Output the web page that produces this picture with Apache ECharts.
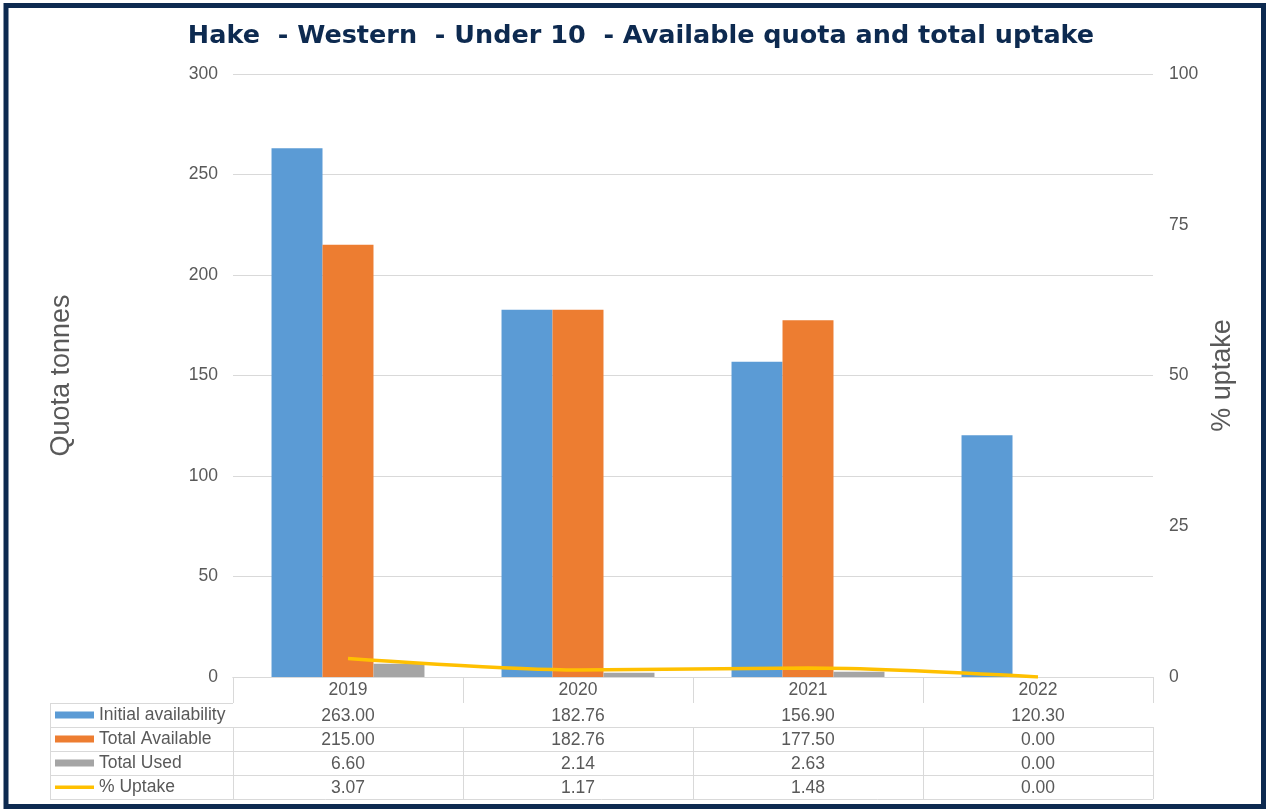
<!DOCTYPE html>
<html>
<head>
<meta charset="utf-8">
<script src="https://cdn.jsdelivr.net/npm/echarts@6/dist/echarts.min.js"></script>
<style>
html,body{margin:0;padding:0;background:#fff;}
#chart{width:1266px;height:809px;}
</style>
</head>
<body>
<div id="chart"></div>
<script>
// ---- data ----
const years = ['2019', '2020', '2021', '2022'];
const initialAvailability = [263.00, 182.76, 156.90, 120.30];
const totalAvailable = [215.00, 182.76, 177.50, 0.00];
const totalUsed = [6.60, 2.14, 2.63, 0.00];
const pctUptake = [3.07, 1.17, 1.48, 0.00];
const leftTicks = [0, 50, 100, 150, 200, 250, 300];
const rightTicks = [0, 25, 50, 75, 100];
const seriesNames = ['Initial availability', 'Total Available', 'Total Used', '% Uptake'];
const titleText = 'Hake  - Western  - Under 10  - Available quota and total uptake';

// ---- layout / style ----
const FONT = '"Liberation Sans", Arial, sans-serif';
const TXT = '#595959';
const GRIDC = '#d9d9d9';
const NAVY = '#0d2a50';
const gridL = 233, gridR = 1153, gridT = 74, gridB = 677;
const headerH = 26, rowH = 24, tableLeft = 50;
const W = 1266, H = 809;
const FS = 17.5;

const rows = [initialAvailability, totalAvailable, totalUsed, pctUptake];

const xAxes = [{
  type: 'category', data: years, position: 'bottom', offset: 0, gridIndex: 0,
  axisLine: {show: true, lineStyle: {color: GRIDC, width: 1}},
  axisTick: {show: true, length: headerH, interval: 0, lineStyle: {color: GRIDC}},
  axisLabel: {interval: 0, margin: headerH / 2, verticalAlign: 'middle', color: TXT, fontSize: FS, fontFamily: FONT},
  splitLine: {show: false}
}];
rows.forEach((r, k) => {
  xAxes.push({
    type: 'category', data: years, position: 'bottom', offset: headerH + k * rowH, gridIndex: 0,
    axisLine: {show: true, lineStyle: {color: GRIDC, width: 1}},
    axisTick: {show: true, length: rowH, interval: 0, lineStyle: {color: GRIDC}},
    axisLabel: {interval: 0, margin: rowH / 2 + 1, verticalAlign: 'middle', color: TXT, fontSize: FS, fontFamily: FONT,
      formatter: (v, i) => r[i].toFixed(2)},
    splitLine: {show: false}
  });
});

const tblBottom = gridB + headerH + rows.length * rowH;
const graphics = [
  {type: 'rect', shape: {x: 6, y: 5.5, width: W - 8.5, height: H - 8}, style: {fill: 'none', stroke: NAVY, lineWidth: 5}, z: 100}
];
for (let k = 0; k <= rows.length; k++) {
  const y = gridB + headerH + k * rowH + 0.5;
  graphics.push({type: 'line', shape: {x1: tableLeft, y1: y, x2: (k === rows.length ? gridR : gridL), y2: y}, style: {stroke: GRIDC, lineWidth: 1}, silent: true});
}
graphics.push({type: 'line', shape: {x1: tableLeft + 0.5, y1: gridB + headerH, x2: tableLeft + 0.5, y2: tblBottom}, style: {stroke: GRIDC, lineWidth: 1}});

// thin line icon for the legend (degenerate points keep the 7px box, the filled strip is the line)
const lineIcon = 'path://M0,0L0.01,0L0,0Z M0,2H40V5.5H0Z M0,7L0.01,7L0,7Z';

const chart = echarts.init(document.getElementById('chart'), null, {renderer: 'canvas'});
chart.setOption({
  backgroundColor: '#fff',
  animation: false,
  title: {
    text: titleText,
    left: 641, top: 23, textAlign: 'center', padding: 0,
    textStyle: {color: NAVY, fontSize: 25.5, fontWeight: 'bold', fontFamily: '"DejaVu Sans", sans-serif'}
  },
  legend: {
    orient: 'vertical', left: 55, top: gridB + headerH, padding: 0, itemGap: 0,
    itemWidth: 39, itemHeight: 7, selectedMode: false,
    textStyle: {color: TXT, fontSize: FS, fontFamily: FONT, lineHeight: rowH, padding: [0, 0, 0, 0]},
    data: [
      {name: seriesNames[0], icon: 'rect'},
      {name: seriesNames[1], icon: 'rect'},
      {name: seriesNames[2], icon: 'rect'},
      {name: seriesNames[3], icon: lineIcon}
    ]
  },
  grid: {left: gridL, right: W - gridR, top: gridT, bottom: H - gridB, containLabel: false},
  xAxis: xAxes,
  yAxis: [{
    type: 'value', min: leftTicks[0], max: leftTicks[leftTicks.length - 1], interval: 50,
    name: 'Quota tonnes', nameLocation: 'middle', nameGap: 158, nameRotate: 90,
    nameTextStyle: {color: TXT, fontSize: 27, fontFamily: FONT},
    axisLine: {show: false}, axisTick: {show: false},
    axisLabel: {color: TXT, fontSize: FS, fontFamily: FONT, margin: 15},
    splitLine: {show: true, lineStyle: {color: GRIDC, width: 1}}
  }, {
    type: 'value', min: rightTicks[0], max: rightTicks[rightTicks.length - 1], interval: 25,
    name: '% uptake', nameLocation: 'middle', nameGap: 56, nameRotate: 90,
    nameTextStyle: {color: TXT, fontSize: 27, fontFamily: FONT},
    axisLine: {show: false}, axisTick: {show: false},
    axisLabel: {color: TXT, fontSize: FS, fontFamily: FONT, margin: 16},
    splitLine: {show: false}
  }],
  series: [
    {name: seriesNames[0], type: 'bar', data: initialAvailability, xAxisIndex: 0, yAxisIndex: 0,
      barGap: 0, barCategoryGap: '33.5%', itemStyle: {color: '#5b9bd5'}},
    {name: seriesNames[1], type: 'bar', data: totalAvailable, xAxisIndex: 0, yAxisIndex: 0,
      barGap: 0, barCategoryGap: '33.5%', itemStyle: {color: '#ed7d31'}},
    {name: seriesNames[2], type: 'bar', data: totalUsed, xAxisIndex: 0, yAxisIndex: 0,
      barGap: 0, barCategoryGap: '33.5%', itemStyle: {color: '#a5a5a5'}},
    {name: seriesNames[3], type: 'line', data: pctUptake, xAxisIndex: 0, yAxisIndex: 1,
      smooth: 0.3, symbol: 'none', z: 5,
      lineStyle: {color: '#ffc000', width: 3.5}, itemStyle: {color: '#ffc000'}}
  ],
  graphic: graphics
});
</script>
</body>
</html>
